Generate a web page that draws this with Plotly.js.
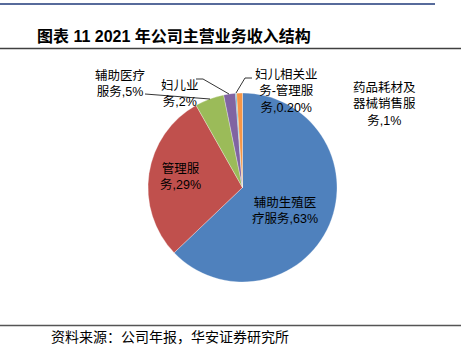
<!DOCTYPE html>
<html>
<head>
<meta charset="utf-8">
<script src="https://cdn.plot.ly/plotly-3.0.1.min.js"></script>
<style>html,body{margin:0;padding:0;background:#fff;}#chart{width:469px;height:356px;}</style>
</head>
<body>
<div id="chart"></div>
<script>
// ---- data ----
const categories = ['辅助生殖医疗服务','管理服务','辅助医疗服务','妇儿业务','妇儿相关业务-管理服务','药品耗材及器械销售服务'];
const shares = [63, 29, 5, 2, 0.2, 1];
const shareLabels = ['63%','29%','5%','2%','0.20%','1%'];
const colors = ['#4F81BD','#C0504D','#9BBB59','#8064A2','#4BACC6','#F79646'];
const titleText = '图表 11 2021 年公司主营业务收入结构';
const sourceText = '资料来源：公司年报，华安证券研究所';

// ---- layout helpers (pixel -> paper) ----
const W = 469, H = 356;
const px = x => x / W;
const py = y => 1 - y / H;
const wrapN = [5, 3, 4, 3, 5, 5];
function wrapLabel(name, pct, n) {
  const chars = Array.from(name);
  const lines = [];
  for (let i = 0; i < chars.length; i += n) lines.push(chars.slice(i, i + n).join(''));
  lines[lines.length - 1] += ',' + pct;
  return lines.join('<br>');
}
const labelPos = [[285, 210], [180, 176], [120, 84], [180, 94], [286, 91], [384, 104]];
const FONT = 'Liberation Sans, Noto Sans CJK SC, sans-serif';

const annotations = categories.map((c, i) => ({
  xref: 'paper', yref: 'paper', x: px(labelPos[i][0]), y: py(labelPos[i][1]),
  xanchor: 'center', yanchor: 'middle', showarrow: false, align: 'center',
  text: wrapLabel(c, shareLabels[i], wrapN[i]),
  font: {family: FONT, size: 12.5, color: '#000'}
}));
annotations.push({
  xref: 'paper', yref: 'paper', x: px(35), y: py(36), xanchor: 'left', yanchor: 'middle',
  showarrow: false, text: '<b>' + titleText + '</b>',
  font: {family: FONT, size: 16, color: '#000'}
});
annotations.push({
  xref: 'paper', yref: 'paper', x: px(49), y: py(337), xanchor: 'left', yanchor: 'middle',
  showarrow: false, text: sourceText,
  font: {family: FONT, size: 14, color: '#000'}
});

function path(pts) {
  return pts.map((p, i) => (i ? 'L' : 'M') + px(p[0]) + ',' + py(p[1])).join(' ');
}
const shapes = [
  {type: 'line', xref: 'paper', yref: 'paper', x0: 0, x1: px(435), y0: py(4), y1: py(4), line: {color: '#1F3A7A', width: 1.5}},
  {type: 'line', xref: 'paper', yref: 'paper', x0: 0, x1: px(461), y0: py(48.5), y1: py(48.5), line: {color: '#404040', width: 1.5}},
  {type: 'line', xref: 'paper', yref: 'paper', x0: 0, x1: px(461), y0: py(325.5), y1: py(325.5), line: {color: '#555555', width: 1.5}},
  {type: 'path', xref: 'paper', yref: 'paper', path: path([[145, 94], [210, 99]]), line: {color: '#000', width: 0.8}},
  {type: 'path', xref: 'paper', yref: 'paper', path: path([[196, 79], [203, 79], [229, 94]]), line: {color: '#000', width: 0.8}},
  {type: 'path', xref: 'paper', yref: 'paper', path: path([[252, 78], [245, 78], [236, 93]]), line: {color: '#000', width: 0.8}}
];

const trace = {
  type: 'pie', labels: categories, values: shares, sort: false, direction: 'clockwise', rotation: 0,
  textinfo: 'none', hoverinfo: 'label+percent',
  marker: {colors: colors, line: {color: '#ffffff', width: 0.3}},
  domain: {x: [px(148), px(337)], y: [py(282), py(93)]},
  showlegend: false
};

const layout = {
  width: W, height: H, margin: {l: 0, r: 0, t: 0, b: 0},
  paper_bgcolor: '#fff', plot_bgcolor: '#fff', showlegend: false,
  annotations: annotations, shapes: shapes
};
Plotly.newPlot('chart', [trace], layout, {staticPlot: true, displayModeBar: false});
</script>
</body>
</html>
